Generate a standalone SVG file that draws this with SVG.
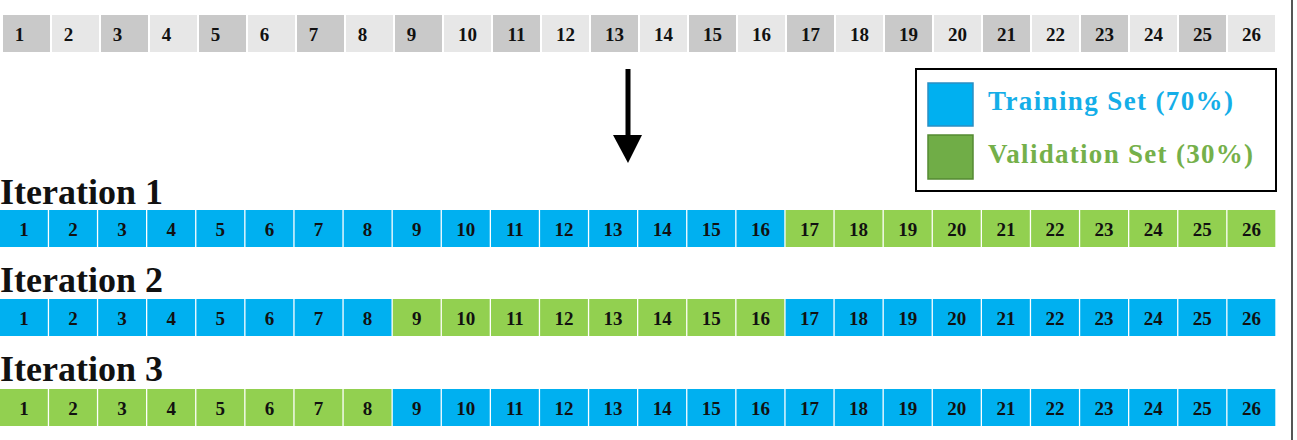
<svg xmlns="http://www.w3.org/2000/svg" width="1297" height="440" viewBox="0 0 1297 440">
<style>
.n{font-family:"Liberation Serif","Times New Roman",serif;font-weight:bold;font-size:19px;fill:#111;text-anchor:middle}
.t{font-family:"Liberation Serif","Times New Roman",serif;font-weight:bold;font-size:36px;fill:#111}
.lg{font-family:"Liberation Serif","Times New Roman",serif;font-weight:bold;font-size:27px}
.g1{fill:#c9c9c9}
.g2{fill:#e7e7e7}
.b{fill:#00b0f0}
.v{fill:#92d050}
</style>
<rect width="1297" height="440" fill="#fff"/>
<line x1="1292" y1="0" x2="1292" y2="440" stroke="#555" stroke-width="2"/>

<g id="data">
<g id="d1"><rect class="g1" x="3" y="15" width="47" height="37"/><text class="n" x="19.5" y="41">1</text></g>
<g id="d2"><rect class="g2" x="52" y="15" width="47" height="37"/><text class="n" x="68.5" y="41">2</text></g>
<g id="d3"><rect class="g1" x="101" y="15" width="47" height="37"/><text class="n" x="117.5" y="41">3</text></g>
<g id="d4"><rect class="g2" x="150" y="15" width="47" height="37"/><text class="n" x="166.5" y="41">4</text></g>
<g id="d5"><rect class="g1" x="199" y="15" width="47" height="37"/><text class="n" x="215.5" y="41">5</text></g>
<g id="d6"><rect class="g2" x="248" y="15" width="47" height="37"/><text class="n" x="264.5" y="41">6</text></g>
<g id="d7"><rect class="g1" x="297" y="15" width="47" height="37"/><text class="n" x="313.5" y="41">7</text></g>
<g id="d8"><rect class="g2" x="346" y="15" width="47" height="37"/><text class="n" x="362.5" y="41">8</text></g>
<g id="d9"><rect class="g1" x="395" y="15" width="47" height="37"/><text class="n" x="411.5" y="41">9</text></g>
<g id="d10"><rect class="g2" x="444" y="15" width="47" height="37"/><text class="n" x="467.5" y="41">10</text></g>
<g id="d11"><rect class="g1" x="493" y="15" width="47" height="37"/><text class="n" x="516.5" y="41">11</text></g>
<g id="d12"><rect class="g2" x="542" y="15" width="47" height="37"/><text class="n" x="565.5" y="41">12</text></g>
<g id="d13"><rect class="g1" x="591" y="15" width="47" height="37"/><text class="n" x="614.5" y="41">13</text></g>
<g id="d14"><rect class="g2" x="640" y="15" width="47" height="37"/><text class="n" x="663.5" y="41">14</text></g>
<g id="d15"><rect class="g1" x="689" y="15" width="47" height="37"/><text class="n" x="712.5" y="41">15</text></g>
<g id="d16"><rect class="g2" x="738" y="15" width="47" height="37"/><text class="n" x="761.5" y="41">16</text></g>
<g id="d17"><rect class="g1" x="787" y="15" width="47" height="37"/><text class="n" x="810.5" y="41">17</text></g>
<g id="d18"><rect class="g2" x="836" y="15" width="47" height="37"/><text class="n" x="859.5" y="41">18</text></g>
<g id="d19"><rect class="g1" x="885" y="15" width="47" height="37"/><text class="n" x="908.5" y="41">19</text></g>
<g id="d20"><rect class="g2" x="934" y="15" width="47" height="37"/><text class="n" x="957.5" y="41">20</text></g>
<g id="d21"><rect class="g1" x="983" y="15" width="47" height="37"/><text class="n" x="1006.5" y="41">21</text></g>
<g id="d22"><rect class="g2" x="1032" y="15" width="47" height="37"/><text class="n" x="1055.5" y="41">22</text></g>
<g id="d23"><rect class="g1" x="1081" y="15" width="47" height="37"/><text class="n" x="1104.5" y="41">23</text></g>
<g id="d24"><rect class="g2" x="1130" y="15" width="47" height="37"/><text class="n" x="1153.5" y="41">24</text></g>
<g id="d25"><rect class="g1" x="1179" y="15" width="47" height="37"/><text class="n" x="1202.5" y="41">25</text></g>
<g id="d26"><rect class="g2" x="1228" y="15" width="47" height="37"/><text class="n" x="1251.5" y="41">26</text></g>
</g>

<g id="connectors">
<rect x="625.5" y="69" width="5" height="68" fill="#000"/>
<polygon points="613,135 642,135 628,163" fill="#000"/>
</g>

<g id="legend">
<rect x="916" y="69" width="360" height="122" fill="#fff" stroke="#000" stroke-width="2"/>
<rect x="928" y="83" width="45" height="43" fill="#00b0f0" stroke="#2a8fc4" stroke-width="1.5"/>
<rect x="928" y="135" width="45" height="44" fill="#70ad47" stroke="#548a32" stroke-width="1.5"/>
<text class="lg" x="988" y="110" fill="#14aee8" textLength="245" lengthAdjust="spacing">Training Set (70%)</text>
<text class="lg" x="988" y="163" fill="#75b04a" textLength="265" lengthAdjust="spacing">Validation Set (30%)</text>
</g>

<g id="iter1">
<text class="t" x="0" y="204">Iteration 1</text>
<g id="i1c1"><rect class="b" x="0" y="210" width="47.8" height="37"/><text class="n" x="23.9" y="236">1</text></g>
<g id="i1c2"><rect class="b" x="49.1" y="210" width="47.8" height="37"/><text class="n" x="73" y="236">2</text></g>
<g id="i1c3"><rect class="b" x="98.2" y="210" width="47.8" height="37"/><text class="n" x="122.1" y="236">3</text></g>
<g id="i1c4"><rect class="b" x="147.3" y="210" width="47.8" height="37"/><text class="n" x="171.2" y="236">4</text></g>
<g id="i1c5"><rect class="b" x="196.4" y="210" width="47.8" height="37"/><text class="n" x="220.3" y="236">5</text></g>
<g id="i1c6"><rect class="b" x="245.5" y="210" width="47.8" height="37"/><text class="n" x="269.4" y="236">6</text></g>
<g id="i1c7"><rect class="b" x="294.6" y="210" width="47.8" height="37"/><text class="n" x="318.5" y="236">7</text></g>
<g id="i1c8"><rect class="b" x="343.7" y="210" width="47.8" height="37"/><text class="n" x="367.6" y="236">8</text></g>
<g id="i1c9"><rect class="b" x="392.8" y="210" width="47.8" height="37"/><text class="n" x="416.7" y="236">9</text></g>
<g id="i1c10"><rect class="b" x="441.9" y="210" width="47.8" height="37"/><text class="n" x="465.8" y="236">10</text></g>
<g id="i1c11"><rect class="b" x="491" y="210" width="47.8" height="37"/><text class="n" x="514.9" y="236">11</text></g>
<g id="i1c12"><rect class="b" x="540.1" y="210" width="47.8" height="37"/><text class="n" x="564" y="236">12</text></g>
<g id="i1c13"><rect class="b" x="589.2" y="210" width="47.8" height="37"/><text class="n" x="613.1" y="236">13</text></g>
<g id="i1c14"><rect class="b" x="638.3" y="210" width="47.8" height="37"/><text class="n" x="662.2" y="236">14</text></g>
<g id="i1c15"><rect class="b" x="687.4" y="210" width="47.8" height="37"/><text class="n" x="711.3" y="236">15</text></g>
<g id="i1c16"><rect class="b" x="736.5" y="210" width="47.8" height="37"/><text class="n" x="760.4" y="236">16</text></g>
<g id="i1c17"><rect class="v" x="785.6" y="210" width="47.8" height="37"/><text class="n" x="809.5" y="236">17</text></g>
<g id="i1c18"><rect class="v" x="834.7" y="210" width="47.8" height="37"/><text class="n" x="858.6" y="236">18</text></g>
<g id="i1c19"><rect class="v" x="883.8" y="210" width="47.8" height="37"/><text class="n" x="907.7" y="236">19</text></g>
<g id="i1c20"><rect class="v" x="932.9" y="210" width="47.8" height="37"/><text class="n" x="956.8" y="236">20</text></g>
<g id="i1c21"><rect class="v" x="982" y="210" width="47.8" height="37"/><text class="n" x="1005.9" y="236">21</text></g>
<g id="i1c22"><rect class="v" x="1031.1" y="210" width="47.8" height="37"/><text class="n" x="1055" y="236">22</text></g>
<g id="i1c23"><rect class="v" x="1080.2" y="210" width="47.8" height="37"/><text class="n" x="1104.1" y="236">23</text></g>
<g id="i1c24"><rect class="v" x="1129.3" y="210" width="47.8" height="37"/><text class="n" x="1153.2" y="236">24</text></g>
<g id="i1c25"><rect class="v" x="1178.4" y="210" width="47.8" height="37"/><text class="n" x="1202.3" y="236">25</text></g>
<g id="i1c26"><rect class="v" x="1227.5" y="210" width="47.8" height="37"/><text class="n" x="1251.4" y="236">26</text></g>
</g>

<g id="iter2">
<text class="t" x="0" y="292">Iteration 2</text>
<g id="i2c1"><rect class="b" x="0" y="299" width="47.8" height="37"/><text class="n" x="23.9" y="325">1</text></g>
<g id="i2c2"><rect class="b" x="49.1" y="299" width="47.8" height="37"/><text class="n" x="73" y="325">2</text></g>
<g id="i2c3"><rect class="b" x="98.2" y="299" width="47.8" height="37"/><text class="n" x="122.1" y="325">3</text></g>
<g id="i2c4"><rect class="b" x="147.3" y="299" width="47.8" height="37"/><text class="n" x="171.2" y="325">4</text></g>
<g id="i2c5"><rect class="b" x="196.4" y="299" width="47.8" height="37"/><text class="n" x="220.3" y="325">5</text></g>
<g id="i2c6"><rect class="b" x="245.5" y="299" width="47.8" height="37"/><text class="n" x="269.4" y="325">6</text></g>
<g id="i2c7"><rect class="b" x="294.6" y="299" width="47.8" height="37"/><text class="n" x="318.5" y="325">7</text></g>
<g id="i2c8"><rect class="b" x="343.7" y="299" width="47.8" height="37"/><text class="n" x="367.6" y="325">8</text></g>
<g id="i2c9"><rect class="v" x="392.8" y="299" width="47.8" height="37"/><text class="n" x="416.7" y="325">9</text></g>
<g id="i2c10"><rect class="v" x="441.9" y="299" width="47.8" height="37"/><text class="n" x="465.8" y="325">10</text></g>
<g id="i2c11"><rect class="v" x="491" y="299" width="47.8" height="37"/><text class="n" x="514.9" y="325">11</text></g>
<g id="i2c12"><rect class="v" x="540.1" y="299" width="47.8" height="37"/><text class="n" x="564" y="325">12</text></g>
<g id="i2c13"><rect class="v" x="589.2" y="299" width="47.8" height="37"/><text class="n" x="613.1" y="325">13</text></g>
<g id="i2c14"><rect class="v" x="638.3" y="299" width="47.8" height="37"/><text class="n" x="662.2" y="325">14</text></g>
<g id="i2c15"><rect class="v" x="687.4" y="299" width="47.8" height="37"/><text class="n" x="711.3" y="325">15</text></g>
<g id="i2c16"><rect class="v" x="736.5" y="299" width="47.8" height="37"/><text class="n" x="760.4" y="325">16</text></g>
<g id="i2c17"><rect class="b" x="785.6" y="299" width="47.8" height="37"/><text class="n" x="809.5" y="325">17</text></g>
<g id="i2c18"><rect class="b" x="834.7" y="299" width="47.8" height="37"/><text class="n" x="858.6" y="325">18</text></g>
<g id="i2c19"><rect class="b" x="883.8" y="299" width="47.8" height="37"/><text class="n" x="907.7" y="325">19</text></g>
<g id="i2c20"><rect class="b" x="932.9" y="299" width="47.8" height="37"/><text class="n" x="956.8" y="325">20</text></g>
<g id="i2c21"><rect class="b" x="982" y="299" width="47.8" height="37"/><text class="n" x="1005.9" y="325">21</text></g>
<g id="i2c22"><rect class="b" x="1031.1" y="299" width="47.8" height="37"/><text class="n" x="1055" y="325">22</text></g>
<g id="i2c23"><rect class="b" x="1080.2" y="299" width="47.8" height="37"/><text class="n" x="1104.1" y="325">23</text></g>
<g id="i2c24"><rect class="b" x="1129.3" y="299" width="47.8" height="37"/><text class="n" x="1153.2" y="325">24</text></g>
<g id="i2c25"><rect class="b" x="1178.4" y="299" width="47.8" height="37"/><text class="n" x="1202.3" y="325">25</text></g>
<g id="i2c26"><rect class="b" x="1227.5" y="299" width="47.8" height="37"/><text class="n" x="1251.4" y="325">26</text></g>
</g>

<g id="iter3">
<text class="t" x="0" y="381">Iteration 3</text>
<g id="i3c1"><rect class="v" x="0" y="389" width="47.8" height="37"/><text class="n" x="23.9" y="415">1</text></g>
<g id="i3c2"><rect class="v" x="49.1" y="389" width="47.8" height="37"/><text class="n" x="73" y="415">2</text></g>
<g id="i3c3"><rect class="v" x="98.2" y="389" width="47.8" height="37"/><text class="n" x="122.1" y="415">3</text></g>
<g id="i3c4"><rect class="v" x="147.3" y="389" width="47.8" height="37"/><text class="n" x="171.2" y="415">4</text></g>
<g id="i3c5"><rect class="v" x="196.4" y="389" width="47.8" height="37"/><text class="n" x="220.3" y="415">5</text></g>
<g id="i3c6"><rect class="v" x="245.5" y="389" width="47.8" height="37"/><text class="n" x="269.4" y="415">6</text></g>
<g id="i3c7"><rect class="v" x="294.6" y="389" width="47.8" height="37"/><text class="n" x="318.5" y="415">7</text></g>
<g id="i3c8"><rect class="v" x="343.7" y="389" width="47.8" height="37"/><text class="n" x="367.6" y="415">8</text></g>
<g id="i3c9"><rect class="b" x="392.8" y="389" width="47.8" height="37"/><text class="n" x="416.7" y="415">9</text></g>
<g id="i3c10"><rect class="b" x="441.9" y="389" width="47.8" height="37"/><text class="n" x="465.8" y="415">10</text></g>
<g id="i3c11"><rect class="b" x="491" y="389" width="47.8" height="37"/><text class="n" x="514.9" y="415">11</text></g>
<g id="i3c12"><rect class="b" x="540.1" y="389" width="47.8" height="37"/><text class="n" x="564" y="415">12</text></g>
<g id="i3c13"><rect class="b" x="589.2" y="389" width="47.8" height="37"/><text class="n" x="613.1" y="415">13</text></g>
<g id="i3c14"><rect class="b" x="638.3" y="389" width="47.8" height="37"/><text class="n" x="662.2" y="415">14</text></g>
<g id="i3c15"><rect class="b" x="687.4" y="389" width="47.8" height="37"/><text class="n" x="711.3" y="415">15</text></g>
<g id="i3c16"><rect class="b" x="736.5" y="389" width="47.8" height="37"/><text class="n" x="760.4" y="415">16</text></g>
<g id="i3c17"><rect class="b" x="785.6" y="389" width="47.8" height="37"/><text class="n" x="809.5" y="415">17</text></g>
<g id="i3c18"><rect class="b" x="834.7" y="389" width="47.8" height="37"/><text class="n" x="858.6" y="415">18</text></g>
<g id="i3c19"><rect class="b" x="883.8" y="389" width="47.8" height="37"/><text class="n" x="907.7" y="415">19</text></g>
<g id="i3c20"><rect class="b" x="932.9" y="389" width="47.8" height="37"/><text class="n" x="956.8" y="415">20</text></g>
<g id="i3c21"><rect class="b" x="982" y="389" width="47.8" height="37"/><text class="n" x="1005.9" y="415">21</text></g>
<g id="i3c22"><rect class="b" x="1031.1" y="389" width="47.8" height="37"/><text class="n" x="1055" y="415">22</text></g>
<g id="i3c23"><rect class="b" x="1080.2" y="389" width="47.8" height="37"/><text class="n" x="1104.1" y="415">23</text></g>
<g id="i3c24"><rect class="b" x="1129.3" y="389" width="47.8" height="37"/><text class="n" x="1153.2" y="415">24</text></g>
<g id="i3c25"><rect class="b" x="1178.4" y="389" width="47.8" height="37"/><text class="n" x="1202.3" y="415">25</text></g>
<g id="i3c26"><rect class="b" x="1227.5" y="389" width="47.8" height="37"/><text class="n" x="1251.4" y="415">26</text></g>
</g>
</svg>
